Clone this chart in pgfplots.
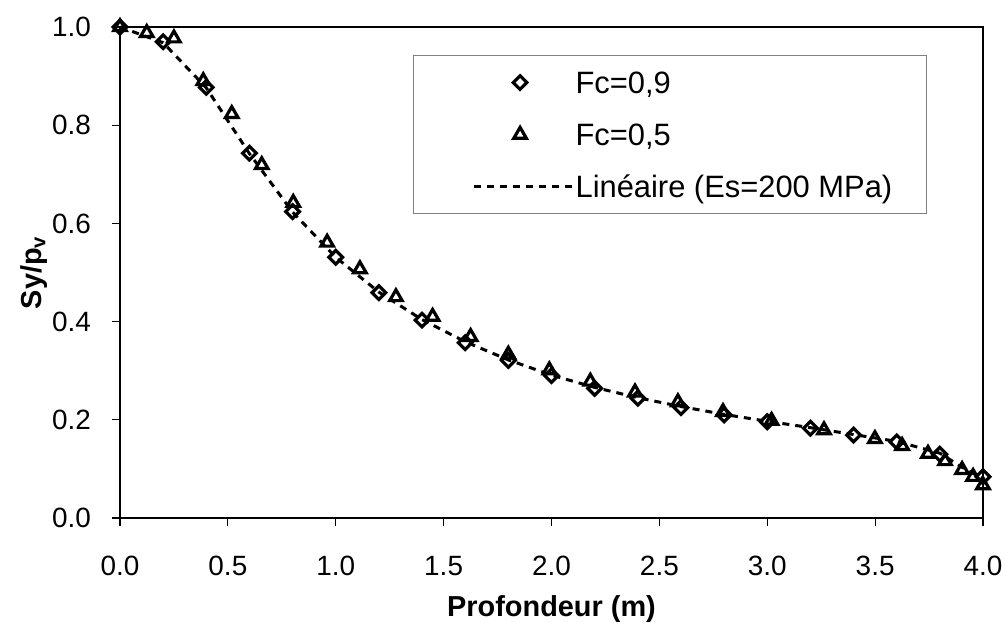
\documentclass[border=0pt]{standalone}
\usepackage{fontspec}
\setmainfont{Liberation Sans}
\usepackage{pgfplots}
\pgfplotsset{compat=1.18}
\pgfplotsset{
  markleg/.style={legend image code/.code={\path (0,0) (62.5bp,0);
    \draw[##1] plot coordinates {(36.5bp,0)};}},
  lineleg/.style={legend image code/.code={\path (0,0);
    \draw[##1] (13.5bp,0) -- (62.5bp,0);}},
}

\begin{document}
\begin{tikzpicture}
\begin{axis}[
  name=ax,
  scale only axis,
  width=431.5bp, height=245.5bp,
  xmin=0, xmax=4, ymin=0, ymax=1,
  xtick={0,0.5,1,1.5,2,2.5,3,3.5,4},
  ytick={0,0.2,0.4,0.6,0.8,1},
  tick pos=left, tick align=outside,
  major tick length=4bp,
  axis line style={line width=0.6bp},
  every tick/.style={black, line width=0.6bp},
  /pgf/number format/fixed,
  /pgf/number format/fixed zerofill,
  /pgf/number format/precision=1,
  /pgf/number format/assume math mode=true,
  tick label style={font=\fontsize{14}{16}\selectfont},
  xticklabel shift=11.5bp,
  yticklabel shift=7bp,
  xlabel={Profondeur (m)},
  xlabel style={font=\fontsize{14.5}{17}\selectfont\bfseries,
    at={(axis description cs:0.5,-0.2)}, anchor=base},
  ylabel={Sy/p\textsubscript{v}},
  ylabel style={font=\fontsize{14.5}{17}\selectfont\bfseries,
    at={(axis description cs:-0.10,0.5)}, anchor=center},
  clip=false,
  legend cell align=left,
  legend style={at={(rel axis cs:0.3395,0.943)}, anchor=north west,
    draw=gray, line width=0.6bp, fill=white,
    font=\fontsize{15.5}{18}\selectfont,
    inner xsep=16bp, inner ysep=0.5bp,
    nodes={inner sep=1bp, text height=17.5bp, text depth=6.5bp}},
]
% Fc=0,9
\addplot[black, only marks, mark=square, mark size=2.4bp,
  mark options={rotate=45, line width=1.6bp}, markleg]
coordinates {
(0,1.000) (0.2,0.970) (0.4,0.877) (0.6,0.743) (0.8,0.624)
(1.0,0.531) (1.2,0.459) (1.4,0.403) (1.6,0.357) (1.8,0.321)
(2.0,0.290) (2.2,0.264) (2.4,0.244) (2.6,0.225) (2.8,0.210)
(3.0,0.196) (3.2,0.183) (3.4,0.169) (3.6,0.155) (3.8,0.130)
(4.0,0.084)};
\addlegendentry{Fc=0,9}
% Fc=0,5
\addplot[black, only marks, mark=triangle, mark size=3.6bp,
  mark options={line width=1.6bp}, markleg]
coordinates {
(0,1.000) (0.124,0.988) (0.25,0.977) (0.386,0.890) (0.518,0.823)
(0.657,0.719) (0.803,0.642) (0.960,0.561) (1.112,0.507) (1.279,0.450)
(1.449,0.410) (1.625,0.369) (1.800,0.333) (1.990,0.301) (2.180,0.278)
(2.387,0.256) (2.586,0.236) (2.795,0.216) (3.020,0.198) (3.263,0.179)
(3.499,0.161) (3.625,0.147) (3.745,0.131) (3.824,0.116) (3.903,0.098)
(3.954,0.084) (4.000,0.067)};
\addlegendentry{Fc=0,5}
% lineaire
\addplot[black, line width=1.5bp, dash pattern=on 3.5bp off 3bp, lineleg]
coordinates {
(0,1.000) (0.2,0.968) (0.4,0.876) (0.6,0.742) (0.8,0.623)
(1.0,0.531) (1.2,0.460) (1.4,0.404) (1.6,0.359) (1.8,0.322)
(2.0,0.291) (2.2,0.266) (2.4,0.245) (2.6,0.227) (2.8,0.211)
(3.0,0.197) (3.2,0.184) (3.4,0.170) (3.6,0.156) (3.8,0.132)
(3.9,0.104) (4.0,0.080)};
\addlegendentry{Linéaire (Es=200 MPa)}
\end{axis}
\pgfresetboundingbox
\path ([xshift=-60bp,yshift=-52.5bp]ax.south west)
  rectangle ([xshift=11.5bp,yshift=13.5bp]ax.north east);
\end{tikzpicture}
\end{document}
